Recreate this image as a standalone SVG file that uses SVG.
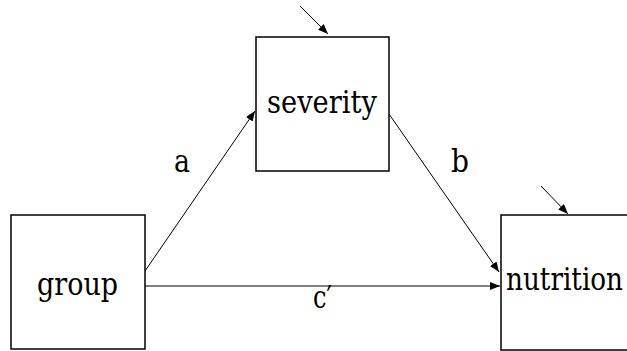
<svg xmlns="http://www.w3.org/2000/svg" width="627" height="351" viewBox="0 0 627 351">
<defs>
<marker id="ah" viewBox="0 0 10 8" refX="10" refY="4" markerWidth="10" markerHeight="8" markerUnits="userSpaceOnUse" orient="auto">
<path d="M0,0 L10,4 L0,8 Z" fill="#000"/>
</marker>
</defs>
<style>
.box{fill:#fff;stroke:#000;stroke-width:1.5}
.lbl{font-family:'DejaVu Serif',serif;font-size:31px;fill:#000}
.ln{stroke:#000;stroke-width:1;fill:none;marker-end:url(#ah)}
</style>
<rect width="627" height="351" fill="#fff"/>
<g id="connectors">
<line class="ln" x1="145" y1="271" x2="255" y2="111"/>
<line class="ln" x1="145" y1="286" x2="500" y2="286"/>
<line class="ln" x1="389" y1="114" x2="499" y2="272"/>
<line class="ln" x1="300" y1="6" x2="328" y2="34"/>
<line class="ln" x1="541" y1="186" x2="568" y2="214"/>
<text class="lbl" x="174" y="172" textLength="16" lengthAdjust="spacingAndGlyphs">a</text>
<text class="lbl" x="451" y="172" textLength="18" lengthAdjust="spacingAndGlyphs">b</text>
<text class="lbl" x="313" y="308" textLength="19" lengthAdjust="spacingAndGlyphs">c′</text>
</g>
<g id="severity">
<rect class="box" x="256" y="37" width="133" height="134"/>
<text class="lbl" x="267" y="113" textLength="110" lengthAdjust="spacingAndGlyphs">severity</text>
</g>
<g id="group">
<rect class="box" x="11" y="215" width="134" height="134"/>
<text class="lbl" x="37" y="295" textLength="81" lengthAdjust="spacingAndGlyphs">group</text>
</g>
<g id="nutrition">
<rect class="box" x="501" y="215" width="134" height="135"/>
<text class="lbl" x="506" y="290" textLength="117" lengthAdjust="spacingAndGlyphs">nutrition</text>
</g>
</svg>
